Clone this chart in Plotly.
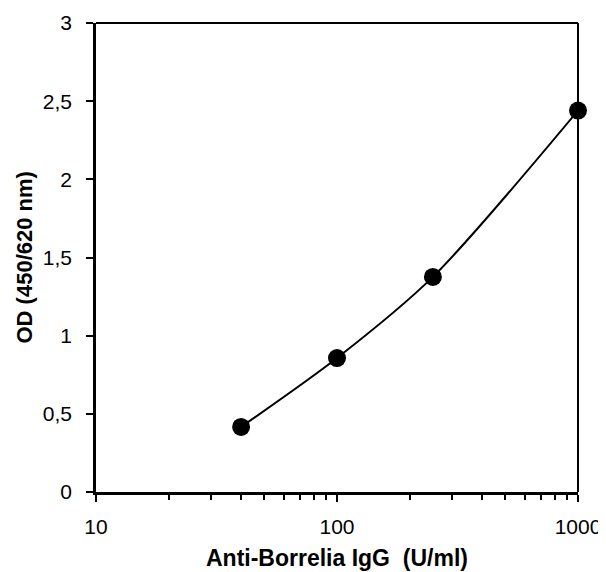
import plotly.graph_objects as go

conc = [40, 100, 250, 1000]
od = [0.416, 0.857, 1.376, 2.44]
x_major = [10, 100, 1000]
x_minor = [20, 30, 40, 50, 60, 70, 80, 90, 200, 300, 400, 500, 600, 700, 800, 900]
y_ticks = [0, 0.5, 1, 1.5, 2, 2.5, 3]
x_title = "<b>Anti-Borrelia IgG  (U/ml)</b>"
y_title = "<b>OD (450/620 nm)</b>"

font = "Liberation Sans, Arial, sans-serif"

W, H = 598, 564
ML, MR, MT, MB = 88, 28, 15, 80
PW, PH = W - ML - MR, H - MT - MB

fig = go.Figure()
fig.add_trace(go.Scatter(
    x=conc, y=od, mode="lines+markers",
    line=dict(color="black", width=2, shape="spline", smoothing=0.8),
    marker=dict(color="black", size=18),
    showlegend=False, cliponaxis=False,
))

# page body has an 8px margin, so the figure is 8px smaller and shifted
fig.update_layout(
    width=W, height=H,
    margin=dict(l=ML, r=MR, t=MT, b=MB),
    paper_bgcolor="white", plot_bgcolor="white",
    separators=",.",
    font=dict(family=font, color="black"),
    xaxis=dict(
        type="log", range=[1, 3], automargin=False,
        tickmode="array", tickvals=x_major, ticktext=[str(v) for v in x_major],
        ticks="outside", ticklen=7, tickwidth=2, tickcolor="black",
        minor=dict(tickmode="array", tickvals=x_minor, ticks="outside", ticklen=5, tickwidth=1.5, tickcolor="black", showgrid=False),
        showline=True, linecolor="black", linewidth=2.5,
        showgrid=False, zeroline=False,
        tickfont=dict(size=21, family=font), ticklabelstandoff=7,
    ),
    yaxis=dict(
        range=[0, 3], automargin=False,
        tickmode="array", tickvals=y_ticks,
        ticks="outside", ticklen=7, tickwidth=2, tickcolor="black",
        showline=True, linecolor="black", linewidth=2.5,
        showgrid=False, zeroline=False,
        tickfont=dict(size=21, family=font), ticklabelstandoff=10,
    ),
    shapes=[
        dict(type="line", xref="paper", yref="paper", x0=0, x1=1, y0=1, y1=1, line=dict(color="black", width=2)),
        dict(type="line", xref="paper", yref="paper", x0=1, x1=1, y0=0, y1=1, line=dict(color="black", width=2)),
    ],
    annotations=[
        dict(text=x_title, xref="paper", yref="paper", x=0.5, y=-66 / PH,
             xanchor="center", yanchor="middle", showarrow=False,
             font=dict(size=23, family=font, color="black")),
        dict(text=y_title, xref="paper", yref="paper", x=-72 / PW, y=0.5,
             xanchor="center", yanchor="middle", showarrow=False, textangle=-90,
             font=dict(size=22, family=font, color="black")),
    ],
)

fig.write_html("out.html")
